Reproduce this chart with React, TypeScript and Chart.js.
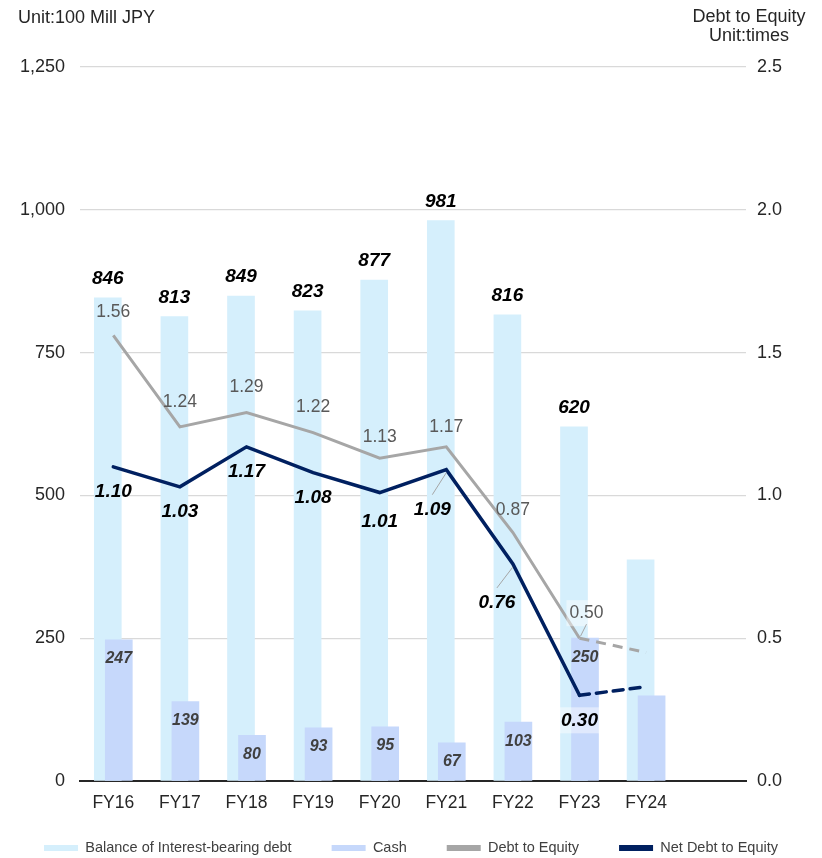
import React, { useEffect, useRef } from 'react';
import { Chart, registerables } from 'chart.js';

Chart.register(...registerables);

const FONT = '"Liberation Sans", Arial, sans-serif';

const categories = ['FY16', 'FY17', 'FY18', 'FY19', 'FY20', 'FY21', 'FY22', 'FY23', 'FY24'];
const interestBearingDebt = [846, 813, 849, 823, 877, 981, 816, 620, 387];
const cash = [247, 139, 80, 93, 95, 67, 103, 250, 149];
const debtToEquity = [1.56, 1.24, 1.29, 1.22, 1.13, 1.17, 0.87, 0.5, 0.45];
const netDebtToEquity = [1.1, 1.03, 1.17, 1.08, 1.01, 1.09, 0.76, 0.3, 0.33];
// FY24 is a forecast: dashed segment and no value labels
const actual = [true, true, true, true, true, true, true, true, false];
const leftTicks = [0, 250, 500, 750, 1000, 1250];
const rightTicks = [0, 0.5, 1, 1.5, 2, 2.5];

// label placement tweaks (pixels)
const deLabelDx = [0, 0, 0, 0, 0, 0, 0, 7, 0];
const deLabelDy = [-23, -25, -25, -25, -21, -20, -22, -25, 0];
const netLabelDx = [0, 0, 0, 0, 0, -14, -16, 0, 0];
const netLabelDy = [25, 25, 25, 25, 29, 40, 39, 25, 0];
const boxedLabel = [false, false, false, false, false, false, false, true, false];

const BAR_SHIFT = 0.0826;

const labelPlugin = {
  id: 'valueLabels',
  afterDatasetsDraw(chart: any) {
    const ctx = chart.ctx as CanvasRenderingContext2D;
    ctx.save();
    ctx.textAlign = 'center';
    ctx.textBaseline = 'middle';

    const debtMeta = chart.getDatasetMeta(0);
    const cashMeta = chart.getDatasetMeta(1);
    const deMeta = chart.getDatasetMeta(2);
    const netMeta = chart.getDatasetMeta(3);

    const box = (text: string, x: number, y: number) => {
      const w = ctx.measureText(text).width + 6;
      ctx.save();
      ctx.fillStyle = 'rgba(255,255,255,0.45)';
      ctx.fillRect(x - w / 2, y - 13, w, 26);
      ctx.restore();
    };

    categories.forEach((_, i) => {
      if (!actual[i]) return;
      const d = debtMeta.data[i];
      ctx.font = `italic bold 19px ${FONT}`;
      ctx.fillStyle = '#000000';
      ctx.fillText(String(interestBearingDebt[i]), d.x, d.y - 19);
      const c = cashMeta.data[i];
      ctx.font = `italic bold 16px ${FONT}`;
      ctx.fillStyle = '#404040';
      ctx.fillText(String(cash[i]), c.x, c.y + 19);
    });

    categories.forEach((_, i) => {
      if (!actual[i]) return;
      const p = deMeta.data[i];
      const dx = p.x + deLabelDx[i];
      const dy = p.y + deLabelDy[i];
      const deText = debtToEquity[i].toFixed(2);
      ctx.font = `17.5px ${FONT}`;
      if (boxedLabel[i]) box(deText, dx, dy);
      if (deLabelDx[i] !== 0) {
        ctx.strokeStyle = '#A6A6A6';
        ctx.lineWidth = 1;
        ctx.beginPath();
        ctx.moveTo(dx, dy + 11);
        ctx.lineTo(p.x + 1, p.y - 2);
        ctx.stroke();
      }
      ctx.fillStyle = '#595959';
      ctx.fillText(deText, dx, dy);

      const n = netMeta.data[i];
      const lx = n.x + netLabelDx[i];
      const ly = n.y + netLabelDy[i];
      if (netLabelDy[i] > 30) {
        ctx.strokeStyle = '#A6A6A6';
        ctx.lineWidth = 1;
        ctx.beginPath();
        ctx.moveTo(lx, ly - 15);
        ctx.lineTo(n.x, n.y + 3);
        ctx.stroke();
      }
      const netText = netDebtToEquity[i].toFixed(2);
      ctx.font = `italic bold 19px ${FONT}`;
      if (boxedLabel[i]) box(netText, lx, ly);
      ctx.fillStyle = '#000000';
      ctx.fillText(netText, lx, ly);
    });
    ctx.restore();
  },
};

export default function App() {
  const ref = useRef<HTMLCanvasElement>(null);

  useEffect(() => {
    const forecastDash = (c: any) => (actual[c.p1DataIndex] ? undefined : [10, 7]);
    const chart = new Chart(ref.current as HTMLCanvasElement, {
      type: 'bar',
      data: {
        datasets: [
          {
            type: 'bar',
            label: 'Balance of Interest-bearing debt',
            data: interestBearingDebt.map((v, i) => ({ x: i - BAR_SHIFT, y: v })),
            backgroundColor: '#D5EFFC',
            barThickness: 27,
            grouped: false,
            yAxisID: 'y',
            order: 3,
          },
          {
            type: 'bar',
            label: 'Cash',
            data: cash.map((v, i) => ({ x: i + BAR_SHIFT, y: v })),
            backgroundColor: '#C6D8FB',
            barThickness: 27,
            grouped: false,
            yAxisID: 'y',
            order: 2,
          },
          {
            type: 'line',
            label: 'Debt to Equity',
            data: debtToEquity.map((v, i) => ({ x: i, y: v })),
            borderColor: '#A6A6A6',
            backgroundColor: '#A6A6A6',
            borderWidth: 3,
            pointRadius: 0,
            tension: 0,
            yAxisID: 'y1',
            segment: { borderDash: forecastDash },
            order: 1,
          },
          {
            type: 'line',
            label: 'Net Debt to Equity',
            data: netDebtToEquity.map((v, i) => ({ x: i, y: v })),
            borderColor: '#002060',
            backgroundColor: '#002060',
            borderWidth: 3.5,
            borderCapStyle: 'round',
            pointRadius: 0,
            tension: 0,
            yAxisID: 'y1',
            segment: { borderDash: forecastDash },
            order: 0,
          },
        ] as any,
      },
      options: {
        responsive: false,
        animation: false,
        events: [],
        layout: { padding: { top: 67, left: 0, right: 0, bottom: -7.25 } },
        plugins: {
          tooltip: { enabled: false },
          legend: {
            position: 'bottom',
            labels: {
              boxWidth: 34,
              boxHeight: 6,
              padding: 40,
              color: '#404040',
              font: { family: FONT, size: 14.5 },
              sort: (a: any, b: any) => a.datasetIndex - b.datasetIndex,
              generateLabels: (ch: any) =>
                Chart.defaults.plugins.legend.labels
                  .generateLabels(ch)
                  .map((l: any) => ({ ...l, lineWidth: 0, lineDash: [] })),
            },
          },
        },
        scales: {
          x: {
            type: 'linear',
            min: -0.5,
            max: 9.5,
            bounds: 'data',
            offset: false,
            afterBuildTicks: (s: any) => {
              s.ticks = categories.map((_, i) => ({ value: i }));
            },
            afterFit: (s: any) => {
              s.height = 19.75;
            },
            ticks: {
              callback: (v: any) => categories[v] ?? '',
              autoSkip: false,
              maxRotation: 0,
              minRotation: 0,
              mirror: true,
              padding: -32.5,
              color: '#262626',
              font: { family: FONT, size: 17.5 },
            },
            grid: { display: false, drawTicks: false },
            border: { display: true, color: '#262626', width: 2 },
          },
          y: {
            position: 'left',
            min: 0,
            max: 1250,
            afterBuildTicks: (s: any) => {
              s.ticks = leftTicks.map((v) => ({ value: v }));
            },
            afterFit: (s: any) => {
              s.width = 80;
            },
            ticks: {
              callback: (v: any) => Number(v).toLocaleString('en-US'),
              padding: 15,
              color: '#262626',
              font: { family: FONT, size: 18 },
            },
            grid: { color: '#D9D9D9', lineWidth: 1.3, drawTicks: false },
            border: { display: false },
          },
          y1: {
            position: 'right',
            min: 0,
            max: 2.5,
            afterBuildTicks: (s: any) => {
              s.ticks = rightTicks.map((v) => ({ value: v }));
            },
            afterFit: (s: any) => {
              s.width = 76;
            },
            ticks: {
              callback: (v: any) => Number(v).toFixed(1),
              padding: 11,
              color: '#262626',
              font: { family: FONT, size: 18 },
            },
            grid: { display: false, drawTicks: false },
            border: { display: false },
          },
        },
      } as any,
      plugins: [labelPlugin],
    });
    return () => chart.destroy();
  }, []);

  const headStyle: React.CSSProperties = {
    position: 'absolute',
    fontFamily: FONT,
    fontSize: 18,
    lineHeight: '19px',
    color: '#262626',
    whiteSpace: 'nowrap',
  };

  return (
    <div
      style={{
        position: 'absolute',
        left: 0,
        top: 0,
        width: 822,
        height: 858,
        overflow: 'hidden',
        background: '#ffffff',
      }}
    >
      <canvas ref={ref} width={822} height={858} style={{ display: 'block' }} />
      <div style={{ ...headStyle, left: 18, top: 8 }}>Unit:100 Mill JPY</div>
      <div style={{ ...headStyle, left: 676, top: 7, width: 146, textAlign: 'center' }}>
        Debt to Equity
        <br />
        Unit:times
      </div>
    </div>
  );
}
